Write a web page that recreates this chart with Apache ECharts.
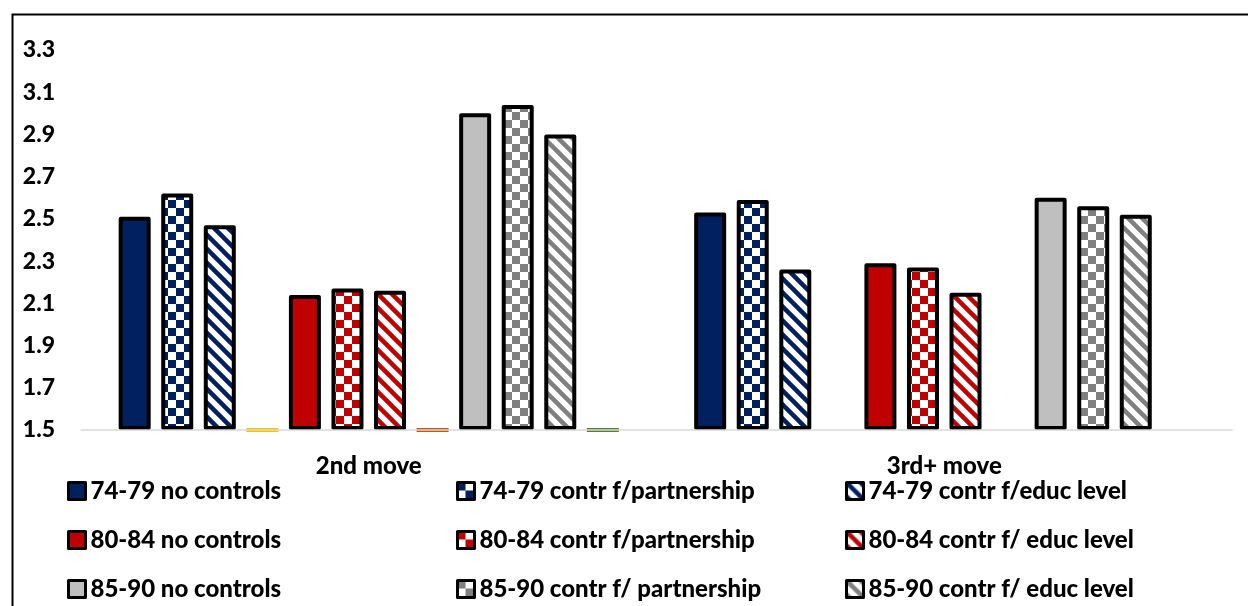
<!DOCTYPE html>
<html>
<head>
<meta charset="utf-8">
<script src="https://cdn.jsdelivr.net/npm/echarts@6/dist/echarts.min.js"></script>
<style>
  html, body { margin: 0; padding: 0; background: #fff; }
  #chart { width: 1248px; height: 606px; }
</style>
</head>
<body>
<div id="chart"></div>
<script>
// Categories on the x axis
const categories = ['2nd move', '3rd+ move'];

// Mean values per cohort and model
const c7479NoControls   = [2.51, 2.53];
const c7479Partnership  = [2.62, 2.59];
const c7479Educ         = [2.47, 2.26];
const c8084NoControls   = [2.14, 2.29];
const c8084Partnership  = [2.17, 2.27];
const c8084Educ         = [2.16, 2.15];
const c8590NoControls   = [3.00, 2.60];
const c8590Partnership  = [3.04, 2.56];
const c8590Educ         = [2.90, 2.52];

// Empty separator series between cohort groups (sit on the baseline)
const sep7479 = [1.5, null];
const sep8084 = [1.5, null];
const sep8590 = [1.5, null];

// Y axis ticks
const yMin = 1.5, yMax = 3.3, yStep = 0.2;

const NAVY = '#002060', RED = '#C00000', GREY = '#BFBFBF', DARKGREY = '#808080';
const FONT = 'Lato';

function checker(color) {
  const s = 8, c = document.createElement('canvas');
  c.width = c.height = s * 2;
  const g = c.getContext('2d');
  g.fillStyle = '#fff'; g.fillRect(0, 0, s * 2, s * 2);
  g.fillStyle = color;
  g.fillRect(0, 0, s, s); g.fillRect(s, s, s, s);
  return { image: c, repeat: 'repeat' };
}

function stripes(color) {
  const n = 14, c = document.createElement('canvas');
  c.width = c.height = n;
  const g = c.getContext('2d');
  g.fillStyle = '#fff'; g.fillRect(0, 0, n, n);
  g.strokeStyle = color; g.lineWidth = 4.5; g.lineCap = 'square';
  for (let k = -1; k <= 1; k++) {
    g.beginPath();
    g.moveTo(k * n - 2, -2);
    g.lineTo(k * n + n + 2, n + 2);
    g.stroke();
  }
  return { image: c, repeat: 'repeat' };
}

function barSeries(name, data, fill) {
  return {
    name, type: 'bar', data,
    barWidth: 32, barGap: '33%',
    itemStyle: { color: fill, borderColor: '#000', borderWidth: 4, borderJoin: 'round' }
  };
}
function sepSeries(name, data, color) {
  return {
    name, type: 'bar', data, clip: false,
    barWidth: 32, barGap: '33%',
    itemStyle: { color, borderColor: color, borderWidth: 4 },
    emphasis: { disabled: true }
  };
}

const series = [
  barSeries('74-79 no controls', c7479NoControls, NAVY),
  barSeries('74-79 contr f/partnership', c7479Partnership, checker(NAVY)),
  barSeries('74-79 contr f/educ level', c7479Educ, stripes(NAVY)),
  sepSeries('sep 74-79', sep7479, '#FFC000'),
  barSeries('80-84 no controls', c8084NoControls, RED),
  barSeries('80-84 contr f/partnership', c8084Partnership, checker(RED)),
  barSeries('80-84 contr f/ educ level', c8084Educ, stripes(RED)),
  sepSeries('sep 80-84', sep8084, '#C55A11'),
  barSeries('85-90 no controls', c8590NoControls, GREY),
  barSeries('85-90 contr f/ partnership', c8590Partnership, checker(DARKGREY)),
  barSeries('85-90 contr f/ educ level', c8590Educ, stripes(DARKGREY)),
  sepSeries('sep 85-90', sep8590, '#548235')
];

const legendText = { fontFamily: FONT, fontWeight: 900, fontSize: 24, color: '#000', lineHeight: 24 };
function legendCol(left, names) {
  return {
    orient: 'vertical', left, top: 479, padding: 0, height: 125,
    itemWidth: 17, itemHeight: 17, itemGap: 25,
    icon: 'rect', textStyle: legendText, data: names, selectedMode: false,
    itemStyle: { borderColor: '#000', borderWidth: 3 }
  };
}

const chart = echarts.init(document.getElementById('chart'), null, { renderer: 'canvas' });
chart.setOption({
  animation: false,
  backgroundColor: '#fff',
  grid: { left: 81, right: 16, top: 50, bottom: 176 },
  xAxis: {
    type: 'category', data: categories, z: 5,
    axisLine: { lineStyle: { color: '#D9D9D9', width: 1.5 } },
    axisTick: { show: false },
    axisLabel: { fontFamily: FONT, fontWeight: 900, fontSize: 24, color: '#000', margin: 24 }
  },
  yAxis: {
    type: 'value', min: yMin, max: yMax, interval: yStep, startValue: yMin,
    axisLine: { show: false }, axisTick: { show: false }, splitLine: { show: false },
    axisLabel: {
      fontFamily: FONT, fontWeight: 900, fontSize: 23, color: '#000', margin: 26,
      formatter: v => v.toFixed(1)
    }
  },
  legend: [
    legendCol(67, ['74-79 no controls', '80-84 no controls', '85-90 no controls']),
    legendCol(456, ['74-79 contr f/partnership', '80-84 contr f/partnership', '85-90 contr f/ partnership']),
    legendCol(845, ['74-79 contr f/educ level', '80-84 contr f/ educ level', '85-90 contr f/ educ level'])
  ],
  graphic: [{
    type: 'rect', left: 10, top: 12, silent: true, z: 10,
    shape: { width: 1400, height: 800 },
    style: { fill: 'none', stroke: '#000', lineWidth: 2 }
  }],
  series
});
</script>
</body>
</html>
